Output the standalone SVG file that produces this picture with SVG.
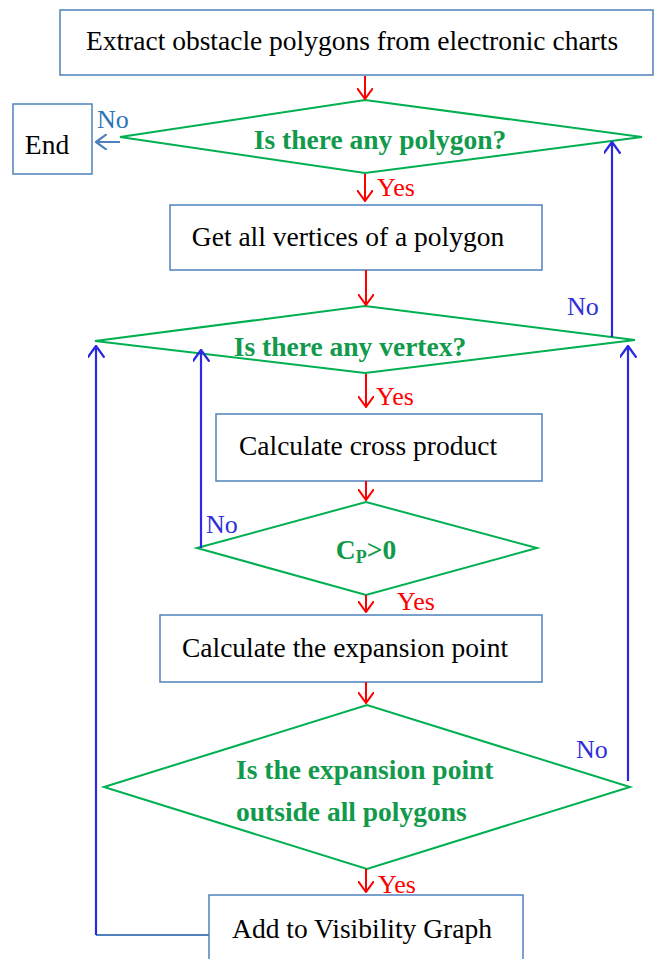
<svg xmlns="http://www.w3.org/2000/svg" width="654" height="959" viewBox="0 0 654 959">
<defs>
<style>
.box{fill:#fff;stroke:#4f81bd;stroke-width:1.5}
.dia{fill:#fff;stroke:#00b050;stroke-width:2}
.t{font-family:"Liberation Serif","Times New Roman",serif;font-size:27.5px;fill:#000}
.g{font-family:"Liberation Serif","Times New Roman",serif;font-size:27.5px;font-weight:bold;fill:#129a4c}
.red{stroke:#ff0000;stroke-width:2;fill:none}
.blu{stroke:#2a2ae0;stroke-width:2.2;fill:none}
.lb{stroke:#4f81bd;stroke-width:2;fill:none}
.ry{font-family:"Liberation Serif","Times New Roman",serif;font-size:26px;fill:#ff0000}
.bn{font-family:"Liberation Serif","Times New Roman",serif;font-size:26px;fill:#3030d8}
</style>
<marker id="ar" viewBox="0 0 12 16" refX="11" refY="8" markerWidth="12" markerHeight="16" markerUnits="userSpaceOnUse" orient="auto"><path d="M0,0 L11,8 L0,16" fill="none" stroke="#ff0000" stroke-width="2"/></marker>
<marker id="ab" viewBox="0 0 12 16" refX="11" refY="8" markerWidth="13" markerHeight="17" markerUnits="userSpaceOnUse" orient="auto"><path d="M0,0 L11,8 L0,16" fill="none" stroke="#2a2ae0" stroke-width="2.2"/></marker>
<marker id="al" viewBox="0 0 12 16" refX="11" refY="8" markerWidth="12" markerHeight="16" markerUnits="userSpaceOnUse" orient="auto"><path d="M0,0 L11,8 L0,16" fill="none" stroke="#4f81bd" stroke-width="2.2"/></marker>
</defs>
<rect width="654" height="959" fill="#fff"/>
<g id="n1"><rect class="box" x="60" y="10" width="593" height="65"/><text class="t" x="352" y="50" text-anchor="middle">Extract obstacle polygons from electronic charts</text></g>
<g id="nEnd"><rect class="box" x="13" y="104" width="79" height="70"/><text class="t" x="47" y="154" text-anchor="middle">End</text></g>
<g id="d1"><polygon class="dia" points="120,137 365,100 642,137 365,173"/><text class="g" x="380" y="149" text-anchor="middle">Is there any polygon?</text></g>
<g id="n2"><rect class="box" x="170" y="205" width="372" height="65"/><text class="t" x="348" y="246" text-anchor="middle">Get all vertices of a polygon</text></g>
<g id="d2"><polygon class="dia" points="95,341 365,306 635,340 365,373"/><text class="g" x="350" y="356" text-anchor="middle">Is there any vertex?</text></g>
<g id="n3"><rect class="box" x="216" y="414" width="326" height="67"/><text class="t" x="368" y="455" text-anchor="middle">Calculate cross product</text></g>
<g id="d3"><polygon class="dia" points="197,548 366,502 537,548 366,595"/><text class="g" x="366" y="559" text-anchor="middle">C<tspan font-size="18" dy="4">P</tspan><tspan dy="-4">&gt;0</tspan></text></g>
<g id="n4"><rect class="box" x="160" y="615" width="382" height="67"/><text class="t" x="345" y="657" text-anchor="middle">Calculate the expansion point</text></g>
<g id="d4"><polygon class="dia" points="104,787 367,705 630,787 367,869"/><text class="g" x="236" y="779">Is the expansion point</text><text class="g" x="236" y="821">outside all polygons</text></g>
<g id="n5"><rect class="box" x="209" y="895" width="314" height="75"/><text class="t" x="362" y="938" text-anchor="middle">Add to Visibility Graph</text></g>
<g id="connectors">
<line class="red" x1="365" y1="76" x2="365" y2="99" marker-end="url(#ar)"/>
<line class="red" x1="365" y1="174" x2="365" y2="201" marker-end="url(#ar)"/>
<line class="red" x1="366" y1="270" x2="366" y2="305" marker-end="url(#ar)"/>
<line class="red" x1="366" y1="374" x2="366" y2="407" marker-end="url(#ar)"/>
<line class="red" x1="366" y1="481" x2="366" y2="500" marker-end="url(#ar)"/>
<line class="red" x1="366" y1="595" x2="366" y2="612" marker-end="url(#ar)"/>
<line class="red" x1="366" y1="682" x2="366" y2="703" marker-end="url(#ar)"/>
<line class="red" x1="366" y1="869" x2="366" y2="892" marker-end="url(#ar)"/>
<line class="lb" x1="120" y1="142" x2="96" y2="142" marker-end="url(#al)"/>
<line class="blu" x1="612" y1="337" x2="612" y2="142" marker-end="url(#ab)"/>
<line class="blu" x1="628" y1="781" x2="628" y2="346" marker-end="url(#ab)"/>
<line class="blu" x1="201" y1="548" x2="201" y2="350" marker-end="url(#ab)"/>
<polyline class="lb" points="209,935 96,935"/>
<line class="blu" x1="96" y1="935" x2="96" y2="346" marker-end="url(#ab)"/>
<text x="97" y="128" font-family="Liberation Serif,serif" font-size="26" fill="#2e75b6">No</text>
<text class="ry" x="377" y="196">Yes</text>
<text class="bn" x="567" y="315">No</text>
<text class="ry" x="376" y="405">Yes</text>
<text class="bn" x="206" y="533">No</text>
<text class="ry" x="397" y="610">Yes</text>
<text class="bn" x="576" y="758">No</text>
<text class="ry" x="378" y="893">Yes</text>
</g>
</svg>
